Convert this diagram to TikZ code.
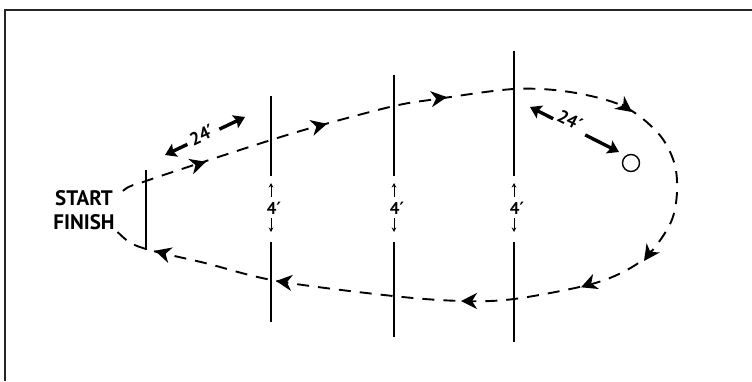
\documentclass[tikz,border=0pt]{standalone}
\usepackage{fontspec}
\setmainfont{PT Sans}
\newfontfamily\primefont{DejaVu Sans}
\usetikzlibrary{arrows.meta,calc}
\newcommand{\ft}{{\primefont\bfseries ′}}
\begin{document}
\begin{tikzpicture}[x=1pt,y=-1pt,
  frame/.style={line width=2pt, draw=black!85},
  pole/.style={line width=2.5pt},
  route/.style={line width=1.9pt, dash pattern=on 12pt off 9pt},
  barbtip/.tip={Stealth[length=16pt,width=16pt,inset=5pt]},
  routearrow/.style={line width=1.9pt, -{barbtip}},
  thick arrow/.style={line width=3.4pt, -{Stealth[length=11pt,width=14pt,inset=2pt]}},
  small arrow/.style={line width=1pt, -{Stealth[length=4.5pt,width=4.5pt]}},
  lbl/.style={font=\bfseries\fontsize{18}{18}\selectfont, inner sep=0pt}
]
\useasboundingbox (0,0) rectangle (752,381);
\fill[white] (0,0) rectangle (752,381);
% frame
\draw[frame] (752,10) -- (5,10) -- (5,381);

% route
\draw[route] plot[smooth cycle, tension=0.55] coordinates {
 (146,181) (197,164) (271,140) (318,126) (394,106) (437,99) (514,89)
 (570,92) (623,106) (658,133) (674,162) (677,192) (671,222) (650,253)
 (625,271) (588,285) (514,299) (462,301) (393,296) (277,281) (205,263)
 (146,249) (124,238) (106,214) (124,190)};

% arrowheads on the route
\foreach \i/\ta/\tb/\ha/\hb in {
  1/195.5/165.1/206/161.8,
  2/316.3/126.6/327/123.8,
  3/436/98.5/447/97.1,
  4/622/104.5/632/112,
  5/651/251/644/261,
  6/591.3/283.3/581/287.3,
  7/472/301/461/301,
  8/287/282.3/276/281,
  9/165.6/253.8/155/250.7}{
  \coordinate (rt\i) at (\ta,\tb);
  \coordinate (rh\i) at (\ha,\hb);
  \draw[routearrow] (rt\i) -- (rh\i);
}

% start / finish line
\coordinate (sfTop) at (146,170);
\coordinate (sfBot) at (146,250);
\draw[pole] (sfTop) -- (sfBot);
\node[align=center, fill=white, inner xsep=3pt, inner ysep=0pt,
      font=\bfseries\fontsize{21}{24}\selectfont] (startfinish) at (84,210) {START\\FINISH};

% poles
\foreach \n/\x/\t/\b in {1/271/96/322, 2/394/75/337, 3/514/51/342}{
  \coordinate (top\n) at (\x,\t);
  \coordinate (upend\n) at (\x,176);
  \coordinate (lostart\n) at (\x,242);
  \coordinate (bot\n) at (\x,\b);
  \draw[pole] (top\n) -- (upend\n);
  \draw[pole] (lostart\n) -- (bot\n);
  \coordinate (ua\n) at (\x,197);
  \coordinate (ut\n) at (\x,183);
  \coordinate (da\n) at (\x,218);
  \coordinate (dt\n) at (\x,232);
  \draw[small arrow] (ua\n) -- (ut\n);
  \draw[small arrow] (da\n) -- (dt\n);
  \node[lbl, font=\bfseries\fontsize{17}{17}\selectfont] (gap\n) at (\x+3,208) {4\ft};
}

% 24' distance labels
\coordinate (aL1) at (165,155);
\coordinate (aL2) at (245,117);
\node[lbl, rotate=25] (dist1) at (202,135) {24\ft};
\draw[thick arrow] ($(aL1)!0.28!(aL2)$) -- (aL1);
\draw[thick arrow] ($(aL1)!0.68!(aL2)$) -- (aL2);

\coordinate (aR1) at (530,107);
\coordinate (aR2) at (619,152);
\node[lbl, rotate=-27] (dist2) at (570,120) {24\ft};
\draw[thick arrow] ($(aR1)!0.26!(aR2)$) -- (aR1);
\draw[thick arrow] ($(aR1)!0.62!(aR2)$) -- (aR2);

% cone / turn marker
\node[draw, circle, minimum size=17pt, inner sep=0pt, line width=1.4pt] (cone) at (631,163) {};
\end{tikzpicture}
\end{document}
